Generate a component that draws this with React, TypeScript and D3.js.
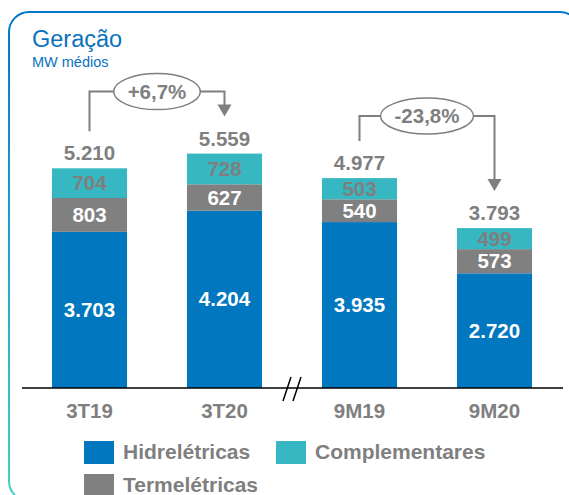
import * as d3 from "d3";
import { useEffect, useRef } from "react";

const categories = ["3T19", "3T20", "9M19", "9M20"];
const hidreletricas = [3703, 4204, 3935, 2720];
const termeletricas = [803, 627, 540, 573];
const complementares = [704, 728, 503, 499];
const totalLabels = ["5.210", "5.559", "4.977", "3.793"];
const variations = [
  { from: "3T19", to: "3T20", label: "+6,7%" },
  { from: "9M19", to: "9M20", label: "-23,8%" },
];
const seriesNames = ["Hidrelétricas", "Termelétricas", "Complementares"];
const fmt = (v: number) => d3.format(",")(v).replace(/,/g, ".");

const width = 569;
const height = 495;
const baseY = 388;
const font = "'Liberation Sans', Arial, sans-serif";
const gray = "#7f7f7f";
const colors: Record<string, string> = {
  "Hidrelétricas": "#0077be",
  "Termelétricas": "#808080",
  "Complementares": "#36b7c1",
};
const labelColors: Record<string, string> = {
  "Hidrelétricas": "#ffffff",
  "Termelétricas": "#ffffff",
  "Complementares": gray,
};

const App = () => {
  const svgRef = useRef<SVGSVGElement>(null);

  const drawChart = () => {
    const root = d3.select(svgRef.current);
    root.selectAll("*").remove();

    // frame with gradient edge
    const defs = root.append("defs");
    const grad = defs
      .append("linearGradient")
      .attr("id", "frameGrad")
      .attr("x1", 0).attr("y1", 0).attr("x2", 0).attr("y2", 1);
    grad.append("stop").attr("offset", "0%").attr("stop-color", "#0077c8");
    grad.append("stop").attr("offset", "100%").attr("stop-color", "#3fd6c6");

    root
      .append("rect")
      .attr("x", 9).attr("y", 12)
      .attr("width", 571).attr("height", 489)
      .attr("rx", 20)
      .attr("fill", "none")
      .attr("stroke", "url(#frameGrad)")
      .attr("stroke-width", 2);
    root
      .append("line")
      .attr("x1", 28).attr("x2", 560)
      .attr("y1", 12).attr("y2", 12)
      .attr("stroke", "#0077c8")
      .attr("stroke-width", 2);

    // title
    root.append("text")
      .attr("x", 32).attr("y", 47)
      .attr("font-family", font).attr("font-size", 23.5)
      .attr("fill", "#0a72bd")
      .text("Geração");
    root.append("text")
      .attr("x", 32).attr("y", 67)
      .attr("font-family", font).attr("font-size", 14.5)
      .attr("fill", "#0a72bd")
      .text("MW médios");

    const x = d3
      .scaleBand()
      .domain(categories)
      .range([22, 562])
      .paddingInner(0.444)
      .paddingOuter(0.222);

    const y = d3.scaleLinear().domain([0, 6000]).range([baseY, baseY - 253]);

    const rows = categories.map((c, i) => ({
      cat: c,
      "Hidrelétricas": hidreletricas[i],
      "Termelétricas": termeletricas[i],
      "Complementares": complementares[i],
    }));
    const stack = d3.stack<any>().keys(seriesNames)(rows);

    const g = root.append("g");

    stack.forEach((layer) => {
      const key = layer.key;
      const lg = g.append("g");
      lg.selectAll("rect")
        .data(layer)
        .enter()
        .append("rect")
        .attr("x", (d: any) => x(d.data.cat)!)
        .attr("width", x.bandwidth())
        .attr("y", (d: any) => y(d[1]))
        .attr("height", (d: any) => y(d[0]) - y(d[1]))
        .attr("fill", colors[key]);
      lg.selectAll("text")
        .data(layer)
        .enter()
        .append("text")
        .attr("x", (d: any) => x(d.data.cat)! + x.bandwidth() / 2)
        .attr("y", (d: any) => (y(d[0]) + y(d[1])) / 2 + 7)
        .attr("text-anchor", "middle")
        .attr("font-family", font)
        .attr("font-weight", "bold")
        .attr("font-size", 20.5)
        .attr("fill", labelColors[key])
        .text((d: any) => fmt(d[1] - d[0]));
    });

    const topOf = (cat: string) => {
      const last = stack[stack.length - 1];
      const d = last.find((p: any) => p.data.cat === cat)!;
      return y(d[1]);
    };

    // totals
    g.selectAll(".total")
      .data(categories)
      .enter()
      .append("text")
      .attr("x", (c) => x(c)! + x.bandwidth() / 2)
      .attr("y", (c) => topOf(c) - 8)
      .attr("text-anchor", "middle")
      .attr("font-family", font)
      .attr("font-weight", "bold")
      .attr("font-size", 20.5)
      .attr("fill", gray)
      .text((c, i) => totalLabels[i]);

    // axis line
    root.append("line")
      .attr("x1", 22).attr("x2", 563)
      .attr("y1", baseY).attr("y2", baseY)
      .attr("stroke", "#000").attr("stroke-width", 1.5);

    // category labels
    root.selectAll(".cat")
      .data(categories)
      .enter()
      .append("text")
      .attr("x", (c) => x(c)! + x.bandwidth() / 2)
      .attr("y", 418)
      .attr("text-anchor", "middle")
      .attr("font-family", font)
      .attr("font-weight", "bold")
      .attr("font-size", 20.5)
      .attr("fill", gray)
      .text((c) => c);

    // axis break
    const bx = (x("3T20")! + x.bandwidth() + x("9M19")!) / 2;
    [-5, 5].forEach((o) => {
      root.append("line")
        .attr("x1", bx + o - 4).attr("y1", 401)
        .attr("x2", bx + o + 4).attr("y2", 377)
        .attr("stroke", "#000").attr("stroke-width", 1.5);
    });

    // variation annotations
    const ag = root.append("g");

    variations.forEach((v) => {
      const x0 = x(v.from)! + x.bandwidth() / 2;
      const x1 = x(v.to)! + x.bandwidth() / 2;
      const y0 = topOf(v.from) - 37;
      const y1 = topOf(v.to) - 37;
      const level = Math.min(y0, y1) - 25;
      const cx = (x0 + x1) / 2;

      const t = ag.append("text")
        .attr("x", cx).attr("y", level + 7)
        .attr("text-anchor", "middle")
        .attr("font-family", font)
        .attr("font-weight", "bold")
        .attr("font-size", 20.5)
        .attr("fill", gray)
        .text(v.label);
      const tw = (t.node() as SVGTextElement).getComputedTextLength();
      const rx = tw / 2 + 14;

      ag.append("path")
        .attr("d", `M${x0},${y0} V${level} H${cx - rx}`)
        .attr("fill", "none").attr("stroke", gray).attr("stroke-width", 2);
      ag.append("path")
        .attr("d", `M${cx + rx},${level} H${x1} V${y1 - 11}`)
        .attr("fill", "none").attr("stroke", gray).attr("stroke-width", 2);
      ag.append("path")
        .attr("d", `M${x1 - 7},${y1 - 12} L${x1 + 7},${y1 - 12} L${x1},${y1} Z`)
        .attr("fill", gray);
      ag.insert("ellipse", "text")
        .attr("cx", cx).attr("cy", level)
        .attr("rx", rx).attr("ry", 18)
        .attr("fill", "#fff").attr("stroke", gray).attr("stroke-width", 1.5);
    });

    // legend
    const legendItems = [
      { name: "Hidrelétricas", lx: 84, ly: 441 },
      { name: "Complementares", lx: 276, ly: 441 },
      { name: "Termelétricas", lx: 84, ly: 474 },
    ];
    const leg = root.append("g");
    legendItems.forEach((it) => {
      leg.append("rect")
        .attr("x", it.lx).attr("y", it.ly)
        .attr("width", 30).attr("height", 23)
        .attr("fill", colors[it.name]);
      leg.append("text")
        .attr("x", it.lx + 39).attr("y", it.ly + 18)
        .attr("font-family", font)
        .attr("font-weight", "bold")
        .attr("font-size", 21)
        .attr("fill", gray)
        .text(it.name);
    });
  };

  useEffect(() => {
    drawChart();
  }, []);

  return (
    <svg
      ref={svgRef}
      width={width}
      height={height}
      style={{ position: "absolute", left: 0, top: 0, background: "#fff" }}
    ></svg>
  );
};

export default App;
